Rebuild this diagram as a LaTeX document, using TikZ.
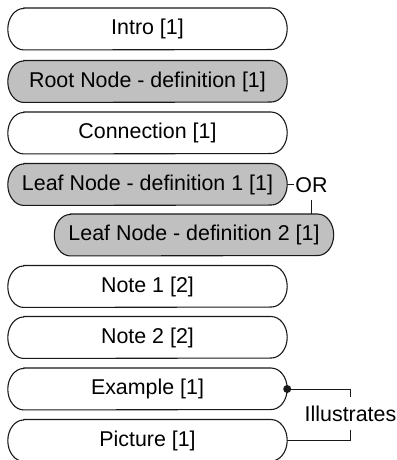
\documentclass[tikz,border=0pt]{standalone}
\usepackage{fontspec}
\setmainfont{Liberation Sans}
\usetikzlibrary{backgrounds}
\definecolor{boxgray}{RGB}{192,192,192}
\definecolor{inkline}{RGB}{25,25,25}
\newcommand{\capsulerx}{16}
\begin{document}
\begin{tikzpicture}[x=1pt,y=1pt,
  item/.style={rectangle, draw=none, inner sep=0pt,
    minimum width=279pt, minimum height=41.5pt,
    font=\fontsize{21.4}{25}\selectfont},
  outline/.style={draw=inkline, line width=1.1pt},
  link/.style={draw=inkline, line width=0.9pt},
  tag/.style={inner xsep=1pt, font=\fontsize{21.4}{25}\selectfont}]
\useasboundingbox (0,0) rectangle (396,460);

% stacked items (y measured from the bottom edge)
\node[item] (intro)   at (147.5,431)   {Intro [1]};
\node[item] (root)    at (147.5,378.5) {Root Node - definition [1]};
\node[item] (conn)    at (147.5,327)   {Connection [1]};
\node[item] (leafa)   at (147.5,275.5) {Leaf Node - definition 1 [1]};
\node[item] (leafb)   at (194,225)     {Leaf Node - definition 2 [1]};
\node[item] (noteA)   at (147.5,173.5) {Note 1 [2]};
\node[item] (noteB)   at (147.5,122.5) {Note 2 [2]};
\node[item] (example) at (147.5,71)    {Example [1]};
\node[item] (picture) at (147.5,19.5)  {Picture [1]};

% capsule outlines behind the labels
\begin{scope}[on background layer]
\foreach \n/\f in {intro/white, root/boxgray, conn/white, leafa/boxgray,
                   leafb/boxgray, noteA/white, noteB/white, example/white,
                   picture/white}{
  \path[outline, fill=\f]
    ([xshift=\capsulerx]\n.north west) -- ([xshift=-\capsulerx]\n.north east)
    arc[start angle=90, end angle=-90, x radius=\capsulerx, y radius=20.75]
    -- ([xshift=\capsulerx]\n.south west)
    arc[start angle=270, end angle=90, x radius=\capsulerx, y radius=20.75]
    -- cycle;
}
\end{scope}

% alternative leaf definitions
\node[tag, inner ysep=6.7pt] (orlbl) at (311.5,274.5) {OR};
\draw[link] (leafa.east) -- (leafa.east -| orlbl.west);
\draw[link] (orlbl.south) -- (orlbl.south |- leafb.north);

% illustration relation
\node[tag, inner ysep=8pt] (illu) at (350.5,46.5) {Illustrates};
\fill[inkline] (example.east) circle[radius=4];
\draw[link] (example.east) -- (example.east -| illu.north) -- (illu.north);
\draw[link] (illu.south) -- (illu.south |- picture.east) -- (picture.east);
\end{tikzpicture}
\end{document}
